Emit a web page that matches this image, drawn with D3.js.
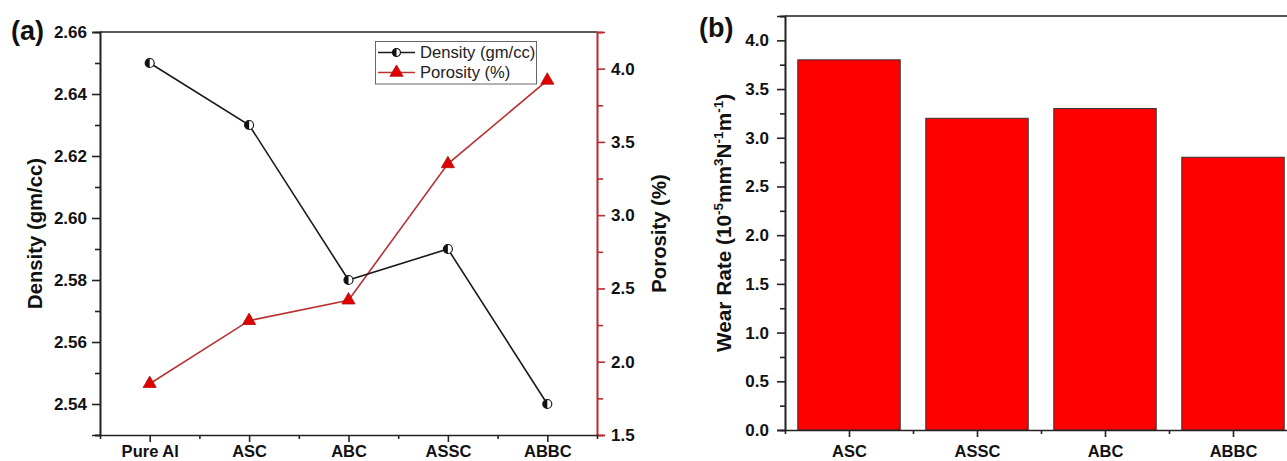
<!DOCTYPE html>
<html>
<head>
<meta charset="utf-8">
<script src="https://cdn.jsdelivr.net/npm/d3@7"></script>
<style>
  html, body { margin: 0; padding: 0; background: #fff; }
  svg { display: block; }
  text { font-family: "Liberation Sans", Arial, sans-serif; }
</style>
</head>
<body>
<svg id="chart" width="1287" height="461"></svg>
<script>
// Panel (a): density and porosity of each material
const categoriesA = ["Pure Al", "ASC", "ABC", "ASSC", "ABBC"];
const density = [2.65, 2.63, 2.58, 2.59, 2.54];
const porosity = [1.85, 2.28, 2.42, 3.35, 3.92];
const densityTicks = [2.54, 2.56, 2.58, 2.60, 2.62, 2.64, 2.66];
const porosityTicks = [1.5, 2.0, 2.5, 3.0, 3.5, 4.0];

// Panel (b): wear rate of each composite
const categoriesB = ["ASC", "ASSC", "ABC", "ABBC"];
const wearRate = [3.8, 3.2, 3.3, 2.8];
const wearTicks = [0.0, 0.5, 1.0, 1.5, 2.0, 2.5, 3.0, 3.5, 4.0];

const svg = d3.select("#chart");
const RED_AXIS = "#c0282d";
const RED_LINE = "#b83232";
const TICK_FONT = 17;
const TITLE_FONT = 20.3;

function styleAxis(g, color, width, fontSize = TICK_FONT) {
  g.select(".domain").attr("stroke", color).attr("stroke-width", width);
  g.selectAll(".tick line").attr("stroke", color).attr("stroke-width", width);
  g.selectAll(".tick text")
    .attr("fill", "#111")
    .attr("font-weight", "bold")
    .attr("font-size", fontSize);
}

// ---------- Panel (a) ----------
const A = { left: 100, right: 597, top: 32, bottom: 435 };

const xA = d3.scalePoint().domain(categoriesA).range([A.left, A.right]).padding(0.5);
const yDen = d3.scaleLinear().domain([2.53, 2.66]).range([A.bottom, A.top]);
const yPor = d3.scaleLinear().domain([1.5, 4.25]).range([A.bottom, A.top]);

const gA = svg.append("g");

// frame top line
gA.append("line")
  .attr("x1", A.left).attr("x2", A.right)
  .attr("y1", A.top).attr("y2", A.top)
  .attr("stroke", "#222").attr("stroke-width", 1.6);

// left minor ticks
gA.append("g")
  .attr("transform", `translate(${A.left},0)`)
  .call(d3.axisLeft(yDen).tickValues(d3.range(2.53, 2.66, 0.02)).tickSize(5).tickFormat(""))
  .call(g => styleAxis(g, "#222", 1.6));
// left major ticks
gA.append("g")
  .attr("transform", `translate(${A.left},0)`)
  .call(d3.axisLeft(yDen).tickValues(densityTicks).tickSize(8).tickPadding(5).tickFormat(d3.format(".2f")))
  .call(g => styleAxis(g, "#222", 1.6));

// right minor ticks
gA.append("g")
  .attr("transform", `translate(${A.right},0)`)
  .call(d3.axisRight(yPor).tickValues(d3.range(1.75, 4.3, 0.5)).tickSize(6).tickFormat(""))
  .call(g => styleAxis(g, RED_AXIS, 1.6));
// right major ticks
gA.append("g")
  .attr("transform", `translate(${A.right},0)`)
  .call(d3.axisRight(yPor).tickValues(porosityTicks).tickSize(8).tickPadding(6).tickFormat(d3.format(".1f")))
  .call(g => styleAxis(g, RED_AXIS, 1.6));

// bottom minor ticks at category boundaries
const xAlin = d3.scaleLinear().domain([0, categoriesA.length]).range([A.left, A.right]);
gA.append("g")
  .attr("transform", `translate(0,${A.bottom})`)
  .call(d3.axisBottom(xAlin).tickValues(d3.range(1, categoriesA.length)).tickSize(4).tickFormat(""))
  .call(g => styleAxis(g, "#222", 1.6));
// bottom major ticks at categories
gA.append("g")
  .attr("transform", `translate(0,${A.bottom})`)
  .call(d3.axisBottom(xA).tickSize(7).tickPadding(3).tickSizeOuter(0))
  .call(g => styleAxis(g, "#222", 1.6, 16.5))
  .call(g => g.select(".domain").remove());

// porosity series
gA.append("path")
  .datum(porosity)
  .attr("fill", "none")
  .attr("stroke", RED_LINE)
  .attr("stroke-width", 1.6)
  .attr("d", d3.line().x((d, i) => xA(categoriesA[i])).y(d => yPor(d)));

const tri = d3.symbol().type(d3.symbolTriangle).size(75);
gA.selectAll(".por-pt")
  .data(porosity)
  .join("path")
  .attr("class", "por-pt")
  .attr("transform", (d, i) => `translate(${xA(categoriesA[i])},${yPor(d)})`)
  .attr("d", tri)
  .attr("fill", "#e00000")
  .attr("stroke", "#b01010")
  .attr("stroke-width", 0.8);

// density series
gA.append("path")
  .datum(density)
  .attr("fill", "none")
  .attr("stroke", "#1a1a1a")
  .attr("stroke-width", 1.6)
  .attr("d", d3.line().x((d, i) => xA(categoriesA[i])).y(d => yDen(d)));

function halfCircle(g, r) {
  g.append("circle").attr("r", r).attr("fill", "#fff").attr("stroke", "#1a1a1a").attr("stroke-width", 1.2);
  g.append("path")
    .attr("d", `M0,${-r} A${r},${r} 0 0 0 0,${r} Z`)
    .attr("fill", "#111");
}

gA.selectAll(".den-pt")
  .data(density)
  .join("g")
  .attr("class", "den-pt")
  .attr("transform", (d, i) => `translate(${xA(categoriesA[i])},${yDen(d)})`)
  .each(function () { halfCircle(d3.select(this), 4.5); });

// axis titles
gA.append("text")
  .attr("transform", `translate(42,${(A.top + A.bottom) / 2}) rotate(-90)`)
  .attr("text-anchor", "middle")
  .attr("font-weight", "bold")
  .attr("font-size", TITLE_FONT)
  .attr("fill", "#111")
  .text("Density (gm/cc)");

gA.append("text")
  .attr("transform", `translate(666,${(A.top + A.bottom) / 2}) rotate(-90)`)
  .attr("text-anchor", "middle")
  .attr("font-weight", "bold")
  .attr("font-size", TITLE_FONT)
  .attr("fill", "#111")
  .text("Porosity (%)");

// legend
const leg = gA.append("g");
leg.append("rect")
  .attr("x", 375.5).attr("y", 41.5).attr("width", 161).attr("height", 42.5)
  .attr("fill", "#fff").attr("stroke", "#666").attr("stroke-width", 1);
const legItems = [
  { label: "Density (gm/cc)", y: 52.5, color: "#1a1a1a", kind: "circle" },
  { label: "Porosity (%)", y: 72.5, color: RED_LINE, kind: "tri" }
];
legItems.forEach(it => {
  leg.append("line")
    .attr("x1", 378).attr("x2", 415).attr("y1", it.y).attr("y2", it.y)
    .attr("stroke", it.color).attr("stroke-width", 1.6);
  const m = leg.append("g").attr("transform", `translate(396.5,${it.y})`);
  if (it.kind === "circle") {
    halfCircle(m, 4);
  } else {
    m.append("path").attr("d", tri).attr("fill", "#e00000").attr("stroke", "#b01010").attr("stroke-width", 0.8);
  }
  leg.append("text")
    .attr("x", 420).attr("y", it.y)
    .attr("dy", "0.35em")
    .attr("font-size", 16.6)
    .attr("fill", "#222")
    .text(it.label);
});

// panel tag
svg.append("text")
  .attr("x", 11).attr("y", 40)
  .attr("font-weight", "bold")
  .attr("font-size", 27)
  .attr("fill", "#111")
  .text("(a)");

// ---------- Panel (b) ----------
const B = { left: 785, right: 1297, top: 16, bottom: 430 };

const xB = d3.scaleBand().domain(categoriesB).range([B.left, B.right]).paddingInner(0.2).paddingOuter(0.1);
const yW = d3.scaleLinear().domain([0, 4.25]).range([B.bottom, B.top]);

const gB = svg.append("g");

// bars
gB.selectAll(".bar")
  .data(wearRate)
  .join("rect")
  .attr("class", "bar")
  .attr("x", (d, i) => xB(categoriesB[i]))
  .attr("width", xB.bandwidth())
  .attr("y", d => yW(d))
  .attr("height", d => yW(0) - yW(d))
  .attr("fill", "#ff0000")
  .attr("stroke", "#333")
  .attr("stroke-width", 1);

// frame top and right lines
gB.append("line")
  .attr("x1", B.left).attr("x2", B.right)
  .attr("y1", B.top).attr("y2", B.top)
  .attr("stroke", "#555").attr("stroke-width", 1.8);
gB.append("line")
  .attr("x1", B.right).attr("x2", B.right)
  .attr("y1", B.top).attr("y2", B.bottom)
  .attr("stroke", "#222").attr("stroke-width", 1.6);

// left minor ticks
gB.append("g")
  .attr("transform", `translate(${B.left},0)`)
  .call(d3.axisLeft(yW).tickValues(d3.range(0.25, 4.3, 0.5)).tickSize(5).tickFormat(""))
  .call(g => styleAxis(g, "#222", 1.6));
// left major ticks
gB.append("g")
  .attr("transform", `translate(${B.left},0)`)
  .call(d3.axisLeft(yW).tickValues(wearTicks).tickSize(8).tickPadding(8).tickFormat(d3.format(".1f")))
  .call(g => styleAxis(g, "#222", 1.6));

// bottom minor ticks between bars
const xBlin = d3.scaleLinear().domain([0, categoriesB.length]).range([B.left, B.right]);
gB.append("g")
  .attr("transform", `translate(0,${B.bottom})`)
  .call(d3.axisBottom(xBlin).tickValues(d3.range(1, categoriesB.length)).tickSize(4).tickFormat(""))
  .call(g => styleAxis(g, "#222", 1.6));
// bottom major ticks at bar centres
gB.append("g")
  .attr("transform", `translate(0,${B.bottom})`)
  .call(d3.axisBottom(xBlin)
    .tickValues(d3.range(categoriesB.length).map(i => i + 0.5))
    .tickFormat((d, i) => categoriesB[i])
    .tickSize(7).tickPadding(8))
  .call(g => styleAxis(g, "#222", 1.6, 16.5))
  .call(g => g.select(".domain").remove());

// y title with superscripts
const wt = gB.append("text")
  .attr("transform", `translate(731,${(B.top + B.bottom) / 2}) rotate(-90)`)
  .attr("text-anchor", "middle")
  .attr("font-weight", "bold")
  .attr("font-size", 20.8)
  .attr("fill", "#111");
const SUP = 13.5, RISE = 8.5;
wt.append("tspan").text("Wear Rate (10");
wt.append("tspan").attr("dy", -RISE).attr("font-size", SUP).text("-5");
wt.append("tspan").attr("dy", RISE).text("mm");
wt.append("tspan").attr("dy", -RISE).attr("font-size", SUP).text("3");
wt.append("tspan").attr("dy", RISE).text("N");
wt.append("tspan").attr("dy", -RISE).attr("font-size", SUP).text("-1");
wt.append("tspan").attr("dy", RISE).text("m");
wt.append("tspan").attr("dy", -RISE).attr("font-size", SUP).text("-1");
wt.append("tspan").attr("dy", RISE).text(")");

svg.append("text")
  .attr("x", 699).attr("y", 37)
  .attr("font-weight", "bold")
  .attr("font-size", 27)
  .attr("fill", "#111")
  .text("(b)");
</script>
</body>
</html>
